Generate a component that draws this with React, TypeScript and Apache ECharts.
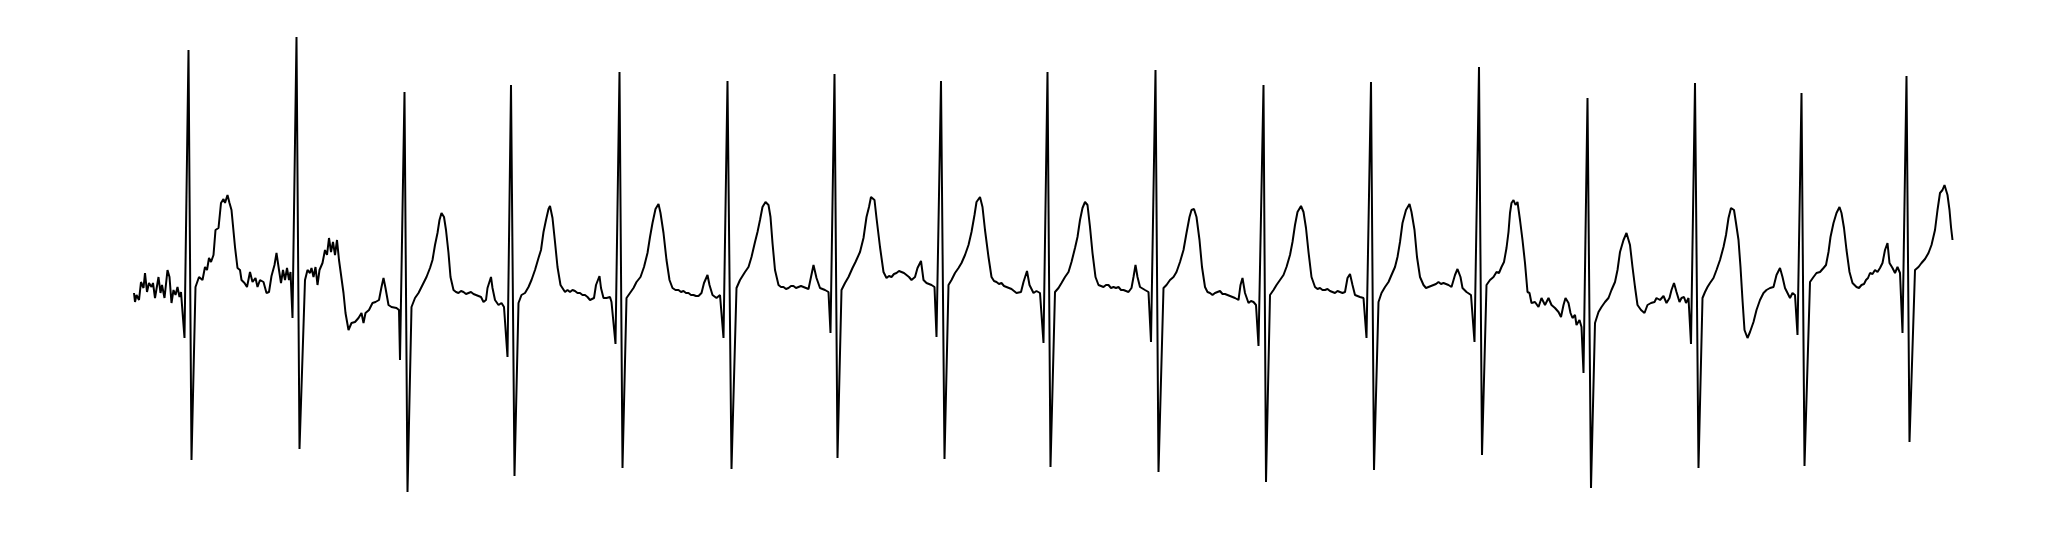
import React, { useEffect, useRef } from "react";
import * as echarts from "echarts";

// ECG strip: x = sample index, y = amplitude (mV)
const leadIn: [number, number][] = [
  [0, 0.07], [2, -0.02], [5, 0.05], [10, 0.0], [14, 0.18], [19, 0.12], [22, 0.27], [26, 0.08],
  [30, 0.17], [35, 0.13], [38, 0.17], [42, 0.02], [49, 0.23], [53, 0.07], [56, 0.15], [61, 0.02],
  [67, 0.3], [71, 0.23], [75, -0.03], [79, 0.1], [83, 0.05], [87, 0.13], [91, 0.03], [94, 0.08],
];
const beat01: [number, number][] = [
  [101, -0.38], [109, 2.5], [115, -1.6], [123, 0.13], [130, 0.23], [137, 0.2], [142, 0.33], [146, 0.3],
  [150, 0.42], [154, 0.38], [159, 0.45], [163, 0.7], [169, 0.72], [174, 0.97], [179, 1.01], [182, 0.97],
  [187, 1.05], [191, 0.97], [195, 0.9], [202, 0.53], [207, 0.32], [212, 0.3], [215, 0.2], [221, 0.17],
  [226, 0.13], [232, 0.28], [237, 0.18], [243, 0.22], [247, 0.13], [252, 0.2], [259, 0.18], [265, 0.07],
  [270, 0.08], [275, 0.24], [281, 0.35], [285, 0.47], [290, 0.3], [294, 0.17], [298, 0.3], [302, 0.2],
  [306, 0.32], [310, 0.2], [313, 0.28],
];
const beat02: [number, number][] = [
  [317, -0.18], [325, 2.63], [331, -1.49], [342, 0.2], [347, 0.3], [352, 0.27], [355, 0.32], [359, 0.23],
  [363, 0.33], [367, 0.15], [371, 0.3], [377, 0.37], [382, 0.5], [386, 0.45], [390, 0.62], [394, 0.48],
  [398, 0.58], [402, 0.45], [406, 0.6], [410, 0.4], [419, 0.07], [423, -0.13], [429, -0.3], [435, -0.23],
  [442, -0.22], [449, -0.18], [455, -0.13], [459, -0.23], [463, -0.13], [470, -0.1], [477, -0.03],
  [483, -0.02], [490, 0.0], [495, 0.13], [499, 0.22], [503, 0.12], [509, -0.05], [515, -0.07],
  [525, -0.08], [530, -0.1],
];
const beat03: [number, number][] = [
  [532, -0.6], [541, 2.08], [547, -1.92], [555, -0.07], [562, 0.02], [569, 0.07], [574, 0.12], [579, 0.17],
  [585, 0.23], [592, 0.32], [597, 0.4], [602, 0.55], [607, 0.67], [611, 0.8], [615, 0.87], [620, 0.83],
  [624, 0.7], [629, 0.47], [633, 0.23], [639, 0.1], [644, 0.08], [649, 0.07], [654, 0.09], [659, 0.08],
  [664, 0.06], [669, 0.07], [674, 0.08], [679, 0.06], [684, 0.05], [689, 0.04], [694, 0.03], [699, -0.02],
  [704, 0.0], [707, 0.12], [714, 0.23], [717, 0.12], [722, 0.0], [729, -0.05], [735, -0.03], [740, -0.07],
];
const beat04: [number, number][] = [
  [747, -0.57], [754, 2.15], [761, -1.76], [769, -0.03], [775, 0.05], [782, 0.07], [789, 0.13], [795, 0.2],
  [802, 0.3], [809, 0.42], [814, 0.5], [819, 0.68], [824, 0.8], [829, 0.91], [832, 0.94], [837, 0.82],
  [842, 0.58], [847, 0.33], [853, 0.15], [862, 0.08], [867, 0.1], [872, 0.08], [877, 0.1], [882, 0.09],
  [887, 0.07], [892, 0.07], [897, 0.05], [902, 0.05], [907, 0.03], [912, 0.0], [920, 0.02], [924, 0.15],
  [931, 0.24], [934, 0.12], [939, 0.02], [945, 0.02], [952, 0.03], [955, -0.02],
];
const beat05: [number, number][] = [
  [963, -0.44], [971, 2.28], [977, -1.68], [985, 0.02], [992, 0.07], [999, 0.12], [1005, 0.18], [1013, 0.23],
  [1020, 0.33], [1027, 0.47], [1032, 0.63], [1037, 0.77], [1043, 0.91], [1049, 0.96], [1053, 0.87],
  [1059, 0.67], [1065, 0.4], [1071, 0.2], [1077, 0.12], [1083, 0.1], [1089, 0.1], [1094, 0.08], [1099, 0.09],
  [1104, 0.07], [1109, 0.07], [1114, 0.05], [1119, 0.05], [1124, 0.04], [1129, 0.04], [1135, 0.07],
  [1140, 0.17], [1147, 0.25], [1151, 0.15], [1157, 0.05], [1165, 0.02], [1172, 0.05],
];
const beat06: [number, number][] = [
  [1179, -0.38], [1187, 2.19], [1195, -1.69], [1205, 0.12], [1212, 0.2], [1222, 0.28], [1229, 0.33],
  [1235, 0.43], [1242, 0.58], [1247, 0.68], [1252, 0.8], [1257, 0.93], [1263, 0.98], [1269, 0.95],
  [1273, 0.83], [1277, 0.57], [1282, 0.3], [1289, 0.15], [1294, 0.13], [1299, 0.13], [1304, 0.11],
  [1309, 0.12], [1314, 0.14], [1319, 0.14], [1324, 0.12], [1329, 0.13], [1334, 0.14], [1339, 0.13],
  [1344, 0.12], [1349, 0.11], [1354, 0.23], [1359, 0.35], [1365, 0.22], [1372, 0.12], [1382, 0.1],
  [1389, 0.08],
];
const beat07: [number, number][] = [
  [1393, -0.33], [1401, 2.26], [1407, -1.58], [1415, 0.1], [1422, 0.17], [1429, 0.23], [1437, 0.32],
  [1443, 0.38], [1452, 0.48], [1459, 0.62], [1465, 0.83], [1470, 0.93], [1474, 1.03], [1481, 1.0],
  [1485, 0.82], [1492, 0.53], [1499, 0.28], [1505, 0.22], [1510, 0.24], [1515, 0.23], [1520, 0.26],
  [1525, 0.27], [1530, 0.29], [1535, 0.28], [1540, 0.27], [1545, 0.25], [1550, 0.23], [1555, 0.2],
  [1562, 0.23], [1567, 0.32], [1574, 0.39], [1579, 0.2], [1585, 0.17], [1595, 0.15], [1601, 0.13],
];
const beat08: [number, number][] = [
  [1605, -0.37], [1614, 2.19], [1621, -1.59], [1629, 0.15], [1635, 0.2], [1642, 0.27], [1649, 0.32],
  [1655, 0.37], [1662, 0.45], [1669, 0.55], [1675, 0.68], [1681, 0.85], [1685, 0.98], [1692, 1.03],
  [1697, 0.93], [1702, 0.7], [1709, 0.43], [1715, 0.23], [1720, 0.19], [1725, 0.18], [1730, 0.16],
  [1735, 0.17], [1740, 0.14], [1745, 0.13], [1750, 0.12], [1755, 0.11], [1760, 0.09], [1765, 0.07],
  [1774, 0.08], [1779, 0.18], [1786, 0.29], [1791, 0.15], [1799, 0.07], [1805, 0.09], [1812, 0.07],
];
const beat09: [number, number][] = [
  [1819, -0.43], [1827, 2.28], [1833, -1.67], [1842, 0.08], [1849, 0.12], [1855, 0.17], [1862, 0.23],
  [1869, 0.28], [1875, 0.38], [1882, 0.52], [1887, 0.63], [1892, 0.8], [1897, 0.92], [1902, 0.98],
  [1907, 0.95], [1912, 0.73], [1917, 0.47], [1923, 0.23], [1929, 0.15], [1934, 0.14], [1939, 0.13],
  [1944, 0.15], [1949, 0.15], [1954, 0.12], [1959, 0.13], [1964, 0.12], [1969, 0.13], [1974, 0.1],
  [1979, 0.1], [1984, 0.09], [1989, 0.08], [1995, 0.12], [1999, 0.23], [2003, 0.35], [2007, 0.23],
  [2012, 0.13], [2022, 0.1], [2029, 0.08],
];
const beat10: [number, number][] = [
  [2034, -0.42], [2043, 2.3], [2049, -1.72], [2059, 0.12], [2065, 0.15], [2072, 0.2], [2079, 0.23],
  [2085, 0.28], [2092, 0.38], [2099, 0.5], [2105, 0.67], [2111, 0.83], [2115, 0.9], [2120, 0.91],
  [2125, 0.83], [2131, 0.6], [2136, 0.33], [2142, 0.13], [2147, 0.08], [2152, 0.07], [2157, 0.05],
  [2162, 0.07], [2167, 0.08], [2172, 0.09], [2177, 0.06], [2182, 0.06], [2187, 0.05], [2192, 0.04],
  [2197, 0.03], [2202, 0.02], [2209, 0.0], [2213, 0.15], [2217, 0.22], [2222, 0.07], [2229, -0.03],
  [2234, -0.01], [2239, -0.02], [2244, -0.05],
];
const beat11: [number, number][] = [
  [2249, -0.46], [2259, 2.15], [2264, -1.82], [2272, 0.05], [2279, 0.1], [2285, 0.15], [2292, 0.2],
  [2299, 0.25], [2305, 0.33], [2312, 0.45], [2317, 0.58], [2322, 0.75], [2327, 0.88], [2334, 0.94],
  [2339, 0.88], [2344, 0.72], [2349, 0.48], [2355, 0.23], [2362, 0.13], [2367, 0.11], [2372, 0.12],
  [2377, 0.1], [2382, 0.1], [2387, 0.11], [2392, 0.09], [2397, 0.08], [2402, 0.07], [2407, 0.09],
  [2412, 0.08], [2417, 0.07], [2422, 0.08], [2427, 0.22], [2432, 0.26], [2437, 0.15], [2442, 0.05],
  [2452, 0.03], [2459, 0.02],
];
const beat12: [number, number][] = [
  [2465, -0.38], [2474, 2.18], [2480, -1.7], [2489, -0.02], [2495, 0.07], [2502, 0.13], [2509, 0.18],
  [2515, 0.25], [2522, 0.33], [2527, 0.43], [2532, 0.58], [2537, 0.77], [2544, 0.9], [2551, 0.96],
  [2555, 0.88], [2561, 0.7], [2566, 0.43], [2572, 0.23], [2579, 0.15], [2584, 0.12], [2589, 0.13],
  [2594, 0.14], [2599, 0.15], [2604, 0.16], [2609, 0.18], [2614, 0.16], [2619, 0.17], [2624, 0.16],
  [2629, 0.15], [2635, 0.13], [2642, 0.25], [2647, 0.31], [2653, 0.23], [2657, 0.12], [2665, 0.08],
  [2674, 0.05],
];
const beat13: [number, number][] = [
  [2681, -0.42], [2690, 2.33], [2696, -1.55], [2705, 0.15], [2712, 0.2], [2719, 0.23], [2725, 0.28],
  [2730, 0.27], [2735, 0.33], [2740, 0.38], [2745, 0.52], [2749, 0.68], [2752, 0.87], [2755, 0.97],
  [2759, 1.0], [2763, 0.95], [2767, 0.98], [2772, 0.8], [2777, 0.6], [2782, 0.37], [2787, 0.08],
  [2791, 0.07], [2795, -0.03], [2802, -0.02], [2809, -0.07], [2815, 0.02], [2822, -0.05], [2829, 0.02],
  [2835, -0.05], [2842, -0.08], [2849, -0.12], [2854, -0.17], [2859, -0.05], [2863, 0.02], [2869, -0.03],
  [2873, -0.13], [2877, -0.18], [2882, -0.15], [2885, -0.25], [2891, -0.2], [2895, -0.27],
];
const beat14: [number, number][] = [
  [2899, -0.73], [2907, 2.02], [2914, -1.88], [2922, -0.23], [2929, -0.12], [2935, -0.07], [2942, -0.02],
  [2949, 0.02], [2955, 0.1], [2962, 0.18], [2967, 0.3], [2972, 0.48], [2979, 0.6], [2985, 0.67],
  [2992, 0.55], [2997, 0.33], [3002, 0.13], [3007, -0.05], [3014, -0.1], [3021, -0.13], [3027, -0.05],
  [3034, -0.03], [3041, -0.02], [3045, 0.02], [3052, 0.0], [3059, 0.04], [3065, -0.03], [3071, 0.02],
  [3075, 0.1], [3080, 0.17], [3085, 0.08], [3091, -0.02], [3095, 0.02], [3100, 0.03], [3104, -0.03],
  [3109, 0.02],
];
const beat15: [number, number][] = [
  [3114, -0.44], [3122, 2.17], [3129, -1.68], [3137, 0.02], [3142, 0.08], [3147, 0.13], [3152, 0.17],
  [3159, 0.22], [3165, 0.3], [3172, 0.4], [3179, 0.53], [3184, 0.65], [3189, 0.82], [3194, 0.92],
  [3200, 0.9], [3204, 0.77], [3209, 0.6], [3213, 0.33], [3217, 0.0], [3221, -0.3], [3227, -0.38],
  [3232, -0.32], [3239, -0.22], [3245, -0.1], [3252, 0.0], [3259, 0.07], [3265, 0.1], [3272, 0.12],
  [3279, 0.13], [3285, 0.25], [3292, 0.32], [3297, 0.23], [3302, 0.12], [3307, 0.07], [3312, 0.02],
  [3317, 0.07], [3322, 0.05],
];
const beat16: [number, number][] = [
  [3327, -0.35], [3335, 2.07], [3341, -1.66], [3352, 0.18], [3359, 0.23], [3365, 0.27], [3372, 0.28],
  [3379, 0.32], [3384, 0.35], [3389, 0.48], [3393, 0.63], [3399, 0.77], [3405, 0.87], [3411, 0.93],
  [3415, 0.87], [3420, 0.72], [3425, 0.5], [3431, 0.28], [3437, 0.17], [3445, 0.13], [3450, 0.12],
  [3455, 0.15], [3460, 0.16], [3464, 0.2], [3468, 0.22], [3472, 0.27], [3477, 0.26], [3482, 0.3],
  [3487, 0.28], [3492, 0.32], [3497, 0.37], [3502, 0.5], [3507, 0.57], [3511, 0.37], [3517, 0.32],
  [3522, 0.27], [3527, 0.33], [3532, 0.27],
];
const beat17: [number, number][] = [
  [3537, -0.33], [3545, 2.24], [3551, -1.42], [3562, 0.3], [3569, 0.33], [3575, 0.37], [3582, 0.41],
  [3589, 0.47], [3595, 0.55], [3602, 0.7], [3607, 0.9], [3612, 1.07], [3617, 1.1], [3621, 1.15],
  [3627, 1.05], [3631, 0.9], [3634, 0.73], [3637, 0.6],
];

const beats = [
  leadIn, beat01, beat02, beat03, beat04, beat05, beat06, beat07, beat08, beat09,
  beat10, beat11, beat12, beat13, beat14, beat15, beat16, beat17,
];

export default function App() {
  const ref = useRef<HTMLDivElement>(null);
  useEffect(() => {
    if (!ref.current) return;
    const chart = echarts.init(ref.current, null, { renderer: "svg" });
    const data = beats.flat();
    chart.setOption({
      animation: false,
      backgroundColor: "#ffffff",
      grid: { left: 134, right: 92, top: 0, bottom: 0 },
      xAxis: { type: "value", min: 0, max: 3640, show: false },
      yAxis: { type: "value", min: -2.38, max: 3.0, show: false },
      series: [
        {
          type: "line",
          data,
          showSymbol: false,
          symbol: "none",
          lineStyle: { color: "#000000", width: 2 },
          silent: true,
        },
      ],
    });
    return () => chart.dispose();
  }, []);
  return (
    <div
      ref={ref}
      style={{ position: "absolute", left: 0, top: 0, width: 2046, height: 538 }}
    />
  );
}
